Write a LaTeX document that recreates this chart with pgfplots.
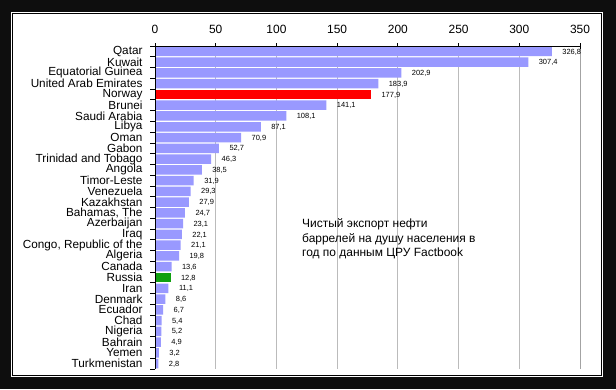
\documentclass[border=0pt]{standalone}
\usepackage{pgfplots}
\pgfplotsset{compat=1.18}
\usepackage{fontspec}
\setmainfont{Liberation Sans}
\definecolor{barblue}{HTML}{9999FF}
\definecolor{norred}{HTML}{FF0000}
\definecolor{rusgreen}{HTML}{10A010}
\definecolor{frame}{HTML}{0E0E0E}
\definecolor{gridgray}{HTML}{BBBBBB}
\begin{document}
\begin{tikzpicture}[x=1bp,y=1bp]
\fill[frame] (0,0) rectangle (616,389);
\fill[white] (11,12) rectangle (603,377);
\draw[black,line width=0.8bp] (12.6,13.6) rectangle (601.4,375.4);
\begin{axis}[
  at={(155bp,20bp)}, anchor=south west,
  scale only axis, width=425bp, height=323bp,
  xmin=0, xmax=350, ymin=-0.5, ymax=29.5, y dir=reverse,
  xbar, bar width=9.5bp, bar shift=0pt,
  axis line style={draw=none},
  xtick={0,50,...,350}, xtick pos=upper, xticklabel pos=upper,
  tick align=outside, major tick length=5bp, minor tick length=5bp,
  x tick style={black, line width=0.8bp, yshift=-2.5bp},
  xticklabel style={font=\fontsize{12}{12}\selectfont, yshift=4bp},
  xticklabel={\pgfmathprintnumber[fixed,precision=0]{\tick}},
  xmajorgrids, grid style={gridgray, line width=0.8bp},
  ytick={0,...,29}, ytick pos=left,
  minor ytick={-0.5,0.5,...,29.5},
  every major y tick/.append style={draw=none},
  minor y tick style={black, line width=0.8bp},
  yticklabels={Qatar,Kuwait,Equatorial Guinea,United Arab Emirates,Norway,Brunei,Saudi Arabia,Libya,Oman,Gabon,Trinidad and Tobago,Angola,Timor-Leste,Venezuela,Kazakhstan,{Bahamas, The},Azerbaijan,Iraq,{Congo, Republic of the},Algeria,Canada,Russia,Iran,Denmark,Ecuador,Chad,Nigeria,Bahrain,Yemen,Turkmenistan},
  yticklabel style={font=\fontsize{11.8}{11}\selectfont, xshift=-4bp},
  point meta=x,
  nodes near coords={\pgfmathprintnumber[fixed,fixed zerofill,precision=1,use comma]{\pgfplotspointmeta}},
  nodes near coords style={font=\fontsize{7.5}{7.5}\selectfont, anchor=west, xshift=7bp, yshift=-0.5bp, black},
  /pgf/number format/assume math mode=true
]
\addplot[fill=barblue, draw=none, bar shift=0pt] coordinates {
(326.8,0) (307.4,1) (202.9,2) (183.9,3) (141.1,5) (108.1,6) (87.1,7) (70.9,8)
(52.7,9) (46.3,10) (38.5,11) (31.9,12) (29.3,13) (27.9,14) (24.7,15) (23.1,16)
(22.1,17) (21.1,18) (19.8,19) (13.6,20) (11.1,22) (8.6,23) (6.7,24) (5.4,25)
(5.2,26) (4.9,27) (3.2,28) (2.8,29)};
\addplot[fill=norred, draw=none, bar shift=0pt] coordinates {(177.9,4)};
\addplot[fill=rusgreen, draw=none, bar shift=0pt] coordinates {(12.8,21)};
\draw[black, line width=0.8bp] (axis cs:0,29.5) -- (axis cs:0,-0.5) -- (axis cs:350,-0.5) -- (axis cs:350,29.5);
\end{axis}
\node[anchor=north west, align=left, inner sep=0pt, font=\fontsize{12}{15}\selectfont] at (302,171)
  {Чистый экспорт нефти\\баррелей на душу населения в\\год по данным ЦРУ Factbook};
\end{tikzpicture}
\end{document}
